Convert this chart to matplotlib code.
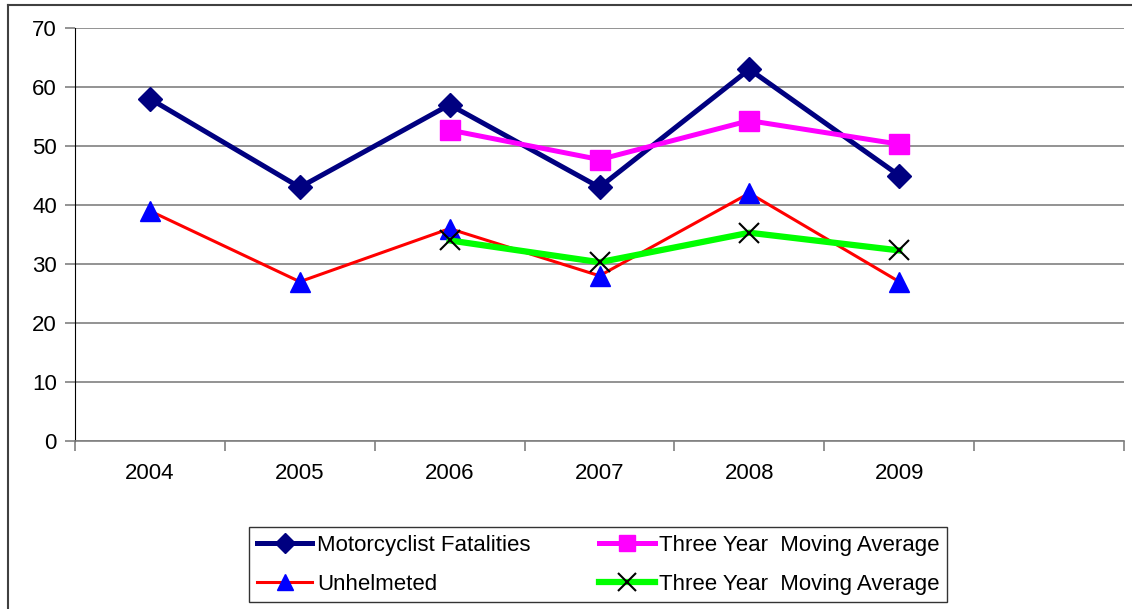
import numpy as np
import matplotlib.pyplot as plt
from matplotlib.lines import Line2D

years = ["2004", "2005", "2006", "2007", "2008", "2009", ""]
fatalities = [58, 43, 57, 43, 63, 45]
fatal_avg = [np.nan, np.nan, 52.7, 47.7, 54.3, 50.3]
unhelmeted = [39, 27, 36, 28, 42, 27]
unhelm_avg = [np.nan, np.nan, 34.0, 30.3, 35.3, 32.3]

plt.rcParams['font.family'] = ['Liberation Sans', 'DejaVu Sans']

fig = plt.figure(figsize=(11.32, 6.09), dpi=100)
ax = fig.add_axes([75/1132, 1-441/609, 1049/1132, 413/609])

x = np.arange(len(fatalities)) + 0.5

ax.plot(x, fatalities, color='#000080', lw=3.6, marker='D', ms=12, mfc='#000080', mec='#000080',
        label='Motorcyclist Fatalities', zorder=3)
ax.plot(x, fatal_avg, color='#FF00FF', lw=3.6, marker='s', ms=14, mfc='#FF00FF', mec='#FF00FF',
        label='Three Year  Moving Average', zorder=3)
ax.plot(x, unhelmeted, color='#FF0000', lw=2.2, marker='^', ms=14, mfc='#0000FF', mec='#0000FF',
        label='Unhelmeted', zorder=4)
ax.plot(x, unhelm_avg, color='#00FF00', lw=4.5, marker='x', ms=15, mec='black', mew=1.5,
        label='Three Year  Moving Average', zorder=5)

ax.set_xlim(0, len(years))
ax.set_ylim(0, 70)
ax.set_yticks(range(0, 71, 10))
ax.set_xticks(np.arange(len(years) + 1))
ax.set_xticklabels([])
ax.set_xticks(np.arange(len(years)) + 0.5, minor=True)
ax.set_xticklabels(years, minor=True)
ax.tick_params(axis='x', which='minor', length=0, pad=16, labelsize=16)
ax.tick_params(axis='x', which='major', length=7, color='#808080', width=1.2)
ax.tick_params(axis='y', length=7, color='#808080', width=1.2, labelsize=16, pad=6)
ax.grid(axis='y', color='#808080', lw=1.2)
ax.set_axisbelow(True)
for s in ['top', 'right']:
    ax.spines[s].set_visible(False)
ax.spines['left'].set_color('black')
ax.spines['bottom'].set_color('#808080')
ax.spines['bottom'].set_linewidth(1.2)

h, l = ax.get_legend_handles_labels()
order = [0, 2, 1, 3]
leg = fig.legend([h[i] for i in order], [l[i] for i in order], ncol=2,
                 loc='upper left', bbox_to_anchor=(249/1132, 1-527/609),
                 fontsize=16, frameon=True, fancybox=False, edgecolor='black',
                 handlelength=2.5, handletextpad=0.2, columnspacing=3.1,
                 labelspacing=0.8, borderpad=0.35, borderaxespad=0, markerscale=0.85)
leg.get_frame().set_linewidth(1.0)

fig.add_artist(Line2D([8/1132, 8/1132], [0, 1-5/609], color='#404040', lw=1.5))
fig.add_artist(Line2D([8/1132, 1], [1-5/609, 1-5/609], color='#404040', lw=1.5))

fig.savefig('out.png', dpi=100)
